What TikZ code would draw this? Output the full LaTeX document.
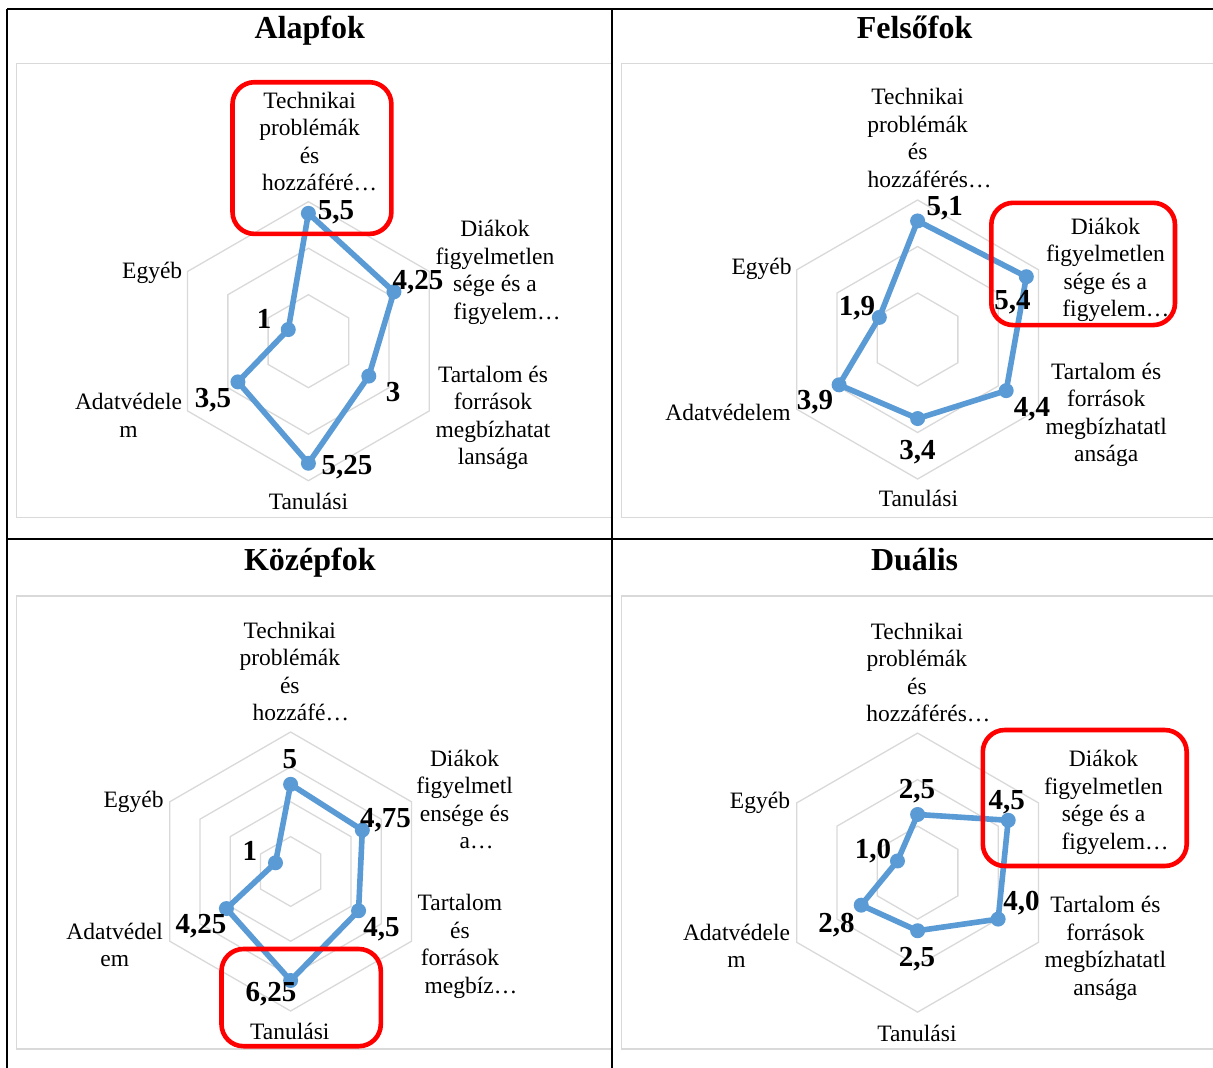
\documentclass[tikz,border=0pt]{standalone}
\usepackage{fontspec}
\setmainfont{Liberation Serif}
\definecolor{gridgray}{HTML}{D9D9D9}
\definecolor{seriesblue}{HTML}{5B9BD5}
\definecolor{calloutred}{HTML}{FF0000}
\begin{document}
\begin{tikzpicture}[x=1pt,y=-1pt,
  cat/.style={font=\fontsize{23.5}{27.5}\selectfont, align=center, inner sep=0pt, anchor=north},
  val/.style={font=\fontsize{29}{32}\selectfont\bfseries, inner sep=0pt, anchor=base},
  celltitle/.style={font=\fontsize{32}{36}\selectfont\bfseries, inner sep=0pt, anchor=base},
  ring/.style={draw=gridgray, line width=1.3pt},
  chartbox/.style={draw=gridgray, line width=1.5pt, fill=white},
  dataline/.style={draw=seriesblue, line width=5.6pt, line join=round},
  datadot/.style={circle, fill=seriesblue, minimum size=15pt, inner sep=0pt},
  callout/.style={draw=calloutred, line width=4.6pt, rounded corners=22pt},
  tablerule/.style={draw=black, line width=1.8pt}
]
\useasboundingbox (0,0) rectangle (1213,1068);

% chart areas
\path[chartbox] (16.7,63.3) rectangle (612.3,517.7);
\path[chartbox] (621.7,63.3) rectangle (1225,517.7);
\path[chartbox] (16.7,596) rectangle (612.3,1049);
\path[chartbox] (621.7,596) rectangle (1225,1049);

% table rules
\draw[tablerule] (7.3,9.3) -- (1225,9.3);
\draw[tablerule] (7.3,539.3) -- (1225,539.3);
\draw[tablerule] (7.3,9.3) -- (7.3,1075);
\draw[tablerule] (612.3,9.3) -- (612.3,1075);

% cell titles
\node[celltitle] (tA) at (309.8,38.6) {Alapfok};
\node[celltitle] (tF) at (914.6,38.6) {Felsőfok};
\node[celltitle] (tK) at (309.8,570.5) {Középfok};
\node[celltitle] (tD) at (914.6,570.5) {Duális};

% ---------- Alapfok (scale 0..6) ----------
\begin{scope}[shift={(308.4,341.2)}]
  \foreach \k in {1,2,3}
    \draw[ring] (-90:{46.5*\k}) -- (-30:{46.5*\k}) -- (30:{46.5*\k}) -- (90:{46.5*\k}) -- (150:{46.5*\k}) -- (210:{46.5*\k}) -- cycle;
  \coordinate (A1) at (-90:{23.25*5.5});
  \coordinate (A2) at (-30:{23.25*4.25});
  \coordinate (A3) at (30:{23.25*3});
  \coordinate (A4) at (90:{23.25*5.25});
  \coordinate (A5) at (150:{23.25*3.5});
  \coordinate (A6) at (210:{23.25*1});
\end{scope}
\draw[dataline] (A1) -- (A2) -- (A3) -- (A4) -- (A5) -- (A6) -- cycle;
\foreach \p in {A1,A2,A3,A4,A5,A6} \node[datadot] (dot\p) at (\p) {};

\node[cat] (A-tech) at (309.6,91.9) {Technikai\\problémák\\és\\\hspace*{20pt}hozzáféré…};
\node[cat] (A-diak) at (495,220) {Diákok\\figyelmetlen\\sége és a\\\hspace*{24pt}figyelem…};
\node[cat] (A-tart) at (493,365.6) {Tartalom és\\források\\megbízhatat\\lansága};
\node[cat] (A-tan) at (308.4,493) {Tanulási};
\node[cat] (A-adat) at (128.5,393.2) {Adatvédele\\m};
\node[cat] (A-egy) at (152.2,261.6) {Egyéb};

\node[val] (vA1) at (336,219) {5,5};
\node[val] (vA2) at (418,289) {4,25};
\node[val] (vA3) at (393,401) {3};
\node[val] (vA4) at (347,474) {5,25};
\node[val] (vA5) at (213,407) {3,5};
\node[val] (vA6) at (264,328) {1};

% ---------- Felsőfok (scale 0..6) ----------
\begin{scope}[shift={(917.6,339.5)}]
  \foreach \k in {1,2,3}
    \draw[ring] (-90:{46.5*\k}) -- (-30:{46.5*\k}) -- (30:{46.5*\k}) -- (90:{46.5*\k}) -- (150:{46.5*\k}) -- (210:{46.5*\k}) -- cycle;
  \coordinate (F1) at (-90:{23.25*5.1});
  \coordinate (F2) at (-30:{23.25*5.4});
  \coordinate (F3) at (30:{23.25*4.4});
  \coordinate (F4) at (90:{23.25*3.4});
  \coordinate (F5) at (150:{23.25*3.9});
  \coordinate (F6) at (210:{23.25*1.9});
\end{scope}
\draw[dataline] (F1) -- (F2) -- (F3) -- (F4) -- (F5) -- (F6) -- cycle;
\foreach \p in {F1,F2,F3,F4,F5,F6} \node[datadot] (dot\p) at (\p) {};

\node[cat] (F-tech) at (917.6,88.4) {Technikai\\problémák\\és\\\hspace*{24pt}hozzáférés…};
\node[cat] (F-diak) at (1105.4,217.6) {Diákok\\figyelmetlen\\sége és a\\\hspace*{21pt}figyelem…};
\node[cat] (F-tart) at (1106.2,362.9) {Tartalom és\\források\\megbízhatatl\\ansága};
\node[cat] (F-tan) at (918.4,490.3) {Tanulási};
\node[cat] (F-adat) at (728,403.5) {Adatvédelem};
\node[cat] (F-egy) at (761.6,258.2) {Egyéb};

\node[val] (vF1) at (944.8,215) {5,1};
\node[val] (vF2) at (1012.5,309) {5,4};
\node[val] (vF3) at (1031.9,416) {4,4};
\node[val] (vF4) at (917.6,459.4) {3,4};
\node[val] (vF5) at (815,409) {3,9};
\node[val] (vF6) at (857,315) {1,9};

% ---------- Középfok (scale 0..8) ----------
\begin{scope}[shift={(290.6,871.5)}]
  \foreach \k in {1,2,3,4}
    \draw[ring] (-90:{34.875*\k}) -- (-30:{34.875*\k}) -- (30:{34.875*\k}) -- (90:{34.875*\k}) -- (150:{34.875*\k}) -- (210:{34.875*\k}) -- cycle;
  \coordinate (K1) at (-90:{17.4375*5});
  \coordinate (K2) at (-30:{17.4375*4.75});
  \coordinate (K3) at (30:{17.4375*4.5});
  \coordinate (K4) at (90:{17.4375*6.25});
  \coordinate (K5) at (150:{17.4375*4.25});
  \coordinate (K6) at (210:{17.4375*1});
\end{scope}
\draw[dataline] (K1) -- (K2) -- (K3) -- (K4) -- (K5) -- (K6) -- cycle;
\foreach \p in {K1,K2,K3,K4,K5,K6} \node[datadot] (dot\p) at (\p) {};

\node[cat] (K-tech) at (289.8,621.5) {Technikai\\problémák\\és\\\hspace*{22pt}hozzáfé…};
\node[cat] (K-diak) at (464.6,749.5) {Diákok\\figyelmetl\\ensége és\\\hspace*{24pt}a…};
\node[cat] (K-tart) at (459.9,894.3) {Tartalom\\és\\források\\\hspace*{22pt}megbíz…};
\node[cat] (K-tan) at (289.8,1023) {Tanulási};
\node[cat] (K-adat) at (114.7,922.5) {Adatvédel\\em};
\node[cat] (K-egy) at (133.6,790.7) {Egyéb};

\node[val] (vK1) at (289.8,768.2) {5};
\node[val] (vK2) at (385.5,827.6) {4,75};
\node[val] (vK3) at (381.6,936.4) {4,5};
\node[val] (vK4) at (270.9,1001.6) {6,25};
\node[val] (vK5) at (200.9,933) {4,25};
\node[val] (vK6) at (249.9,860.9) {1};

% ---------- Duális (scale 0..6) ----------
\begin{scope}[shift={(917.6,872.6)}]
  \foreach \k in {1,2,3}
    \draw[ring] (-90:{46.5*\k}) -- (-30:{46.5*\k}) -- (30:{46.5*\k}) -- (90:{46.5*\k}) -- (150:{46.5*\k}) -- (210:{46.5*\k}) -- cycle;
  \coordinate (D1) at (-90:{23.25*2.5});
  \coordinate (D2) at (-30:{23.25*4.5});
  \coordinate (D3) at (30:{23.25*4.0});
  \coordinate (D4) at (90:{23.25*2.5});
  \coordinate (D5) at (150:{23.25*2.8});
  \coordinate (D6) at (210:{23.25*1.0});
\end{scope}
\draw[dataline] (D1) -- (D2) -- (D3) -- (D4) -- (D5) -- (D6) -- cycle;
\foreach \p in {D1,D2,D3,D4,D5,D6} \node[datadot] (dot\p) at (\p) {};

\node[cat] (D-tech) at (916.9,622.5) {Technikai\\problémák\\és\\\hspace*{23pt}hozzáférés…};
\node[cat] (D-diak) at (1103.5,750.2) {Diákok\\figyelmetlen\\sége és a\\\hspace*{23pt}figyelem…};
\node[cat] (D-tart) at (1105.4,896) {Tartalom és\\források\\megbízhatatl\\ansága};
\node[cat] (D-tan) at (916.9,1024.7) {Tanulási};
\node[cat] (D-adat) at (736.5,923.5) {Adatvédele\\m};
\node[cat] (D-egy) at (760,792.4) {Egyéb};

\node[val] (vD1) at (916.9,798.1) {2,5};
\node[val] (vD2) at (1006.7,809.4) {4,5};
\node[val] (vD3) at (1021.4,910.6) {4,0};
\node[val] (vD4) at (916.9,966.6) {2,5};
\node[val] (vD5) at (836.4,932.2) {2,8};
\node[val] (vD6) at (873.1,858.5) {1,0};

% highlight frames
\draw[callout] (232.5,82.2) rectangle (391.4,233.9);
\draw[callout] (991.3,202.8) rectangle (1175,325.1);
\draw[callout] (221.5,949) rectangle (380.8,1046.2);
\draw[callout] (982.8,730) rectangle (1186.7,866);
\end{tikzpicture}
\end{document}
